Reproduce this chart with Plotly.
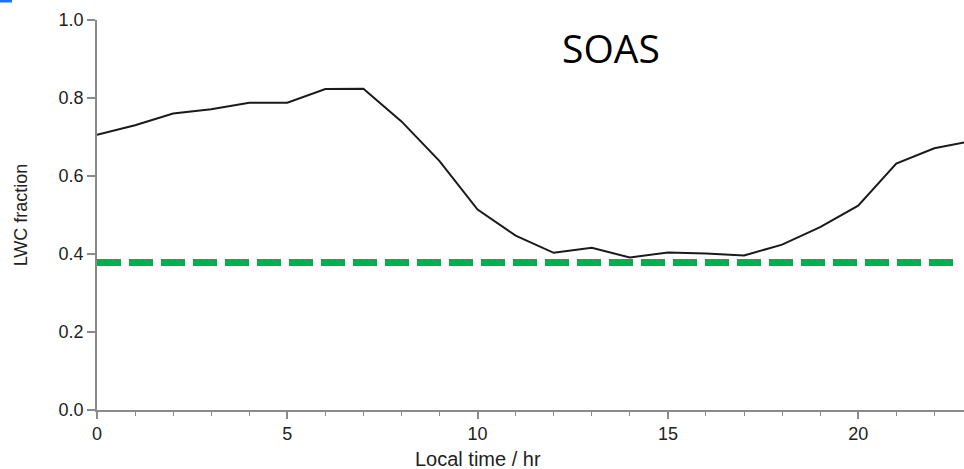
import plotly.graph_objects as go

# Diurnal liquid-water-content fraction (SOAS)
hours = list(range(24))
lwc_fraction = [0.706, 0.730, 0.760, 0.771, 0.788, 0.788, 0.823, 0.824, 0.740, 0.638,
                0.514, 0.447, 0.403, 0.416, 0.391, 0.404, 0.401, 0.396, 0.424, 0.469,
                0.524, 0.632, 0.671, 0.690]

# Horizontal reference level
ref_x = [0, 22.55]
ref_y = [0.378, 0.378]

x_ticks = [0, 5, 10, 15, 20]
y_ticks = [0.0, 0.2, 0.4, 0.6, 0.8, 1.0]
y_tick_text = ["0.0", "0.2", "0.4", "0.6", "0.8", "1.0"]

AXIS_GREY = "#8a8a8a"
SANS = "Liberation Sans, Arial, sans-serif"
TICK_FONT = dict(family=SANS, size=18, color="#222222")

L_MARGIN, T_MARGIN, PLOT_W, PLOT_H = 97, 20, 867, 390


def px_x(px):
    """Page pixel column -> paper x."""
    return (px - L_MARGIN) / PLOT_W


def px_y(py):
    """Page pixel row -> paper y."""
    return (PLOT_H - (py - T_MARGIN)) / PLOT_H


fig = go.Figure()

fig.add_trace(go.Scatter(
    x=hours, y=lwc_fraction, mode="lines",
    line=dict(color="#1a1a1a", width=2),
    showlegend=False, hoverinfo="skip",
))

fig.add_trace(go.Scatter(
    x=ref_x, y=ref_y, mode="lines",
    line=dict(color="#00b050", width=7, dash="24px,8px"),
    showlegend=False, hoverinfo="skip",
))

fig.update_layout(
    width=964, height=469,
    margin=dict(l=L_MARGIN, r=0, t=T_MARGIN, b=469 - T_MARGIN - PLOT_H),
    paper_bgcolor="white", plot_bgcolor="white",
    showlegend=False,
    annotations=[
        dict(text="SOAS", x=px_x(611), y=px_y(48),
             xref="paper", yref="paper", xanchor="center", yanchor="middle",
             showarrow=False,
             font=dict(family="Open Sans, sans-serif", size=39, color="#000000")),
        dict(text="Local time / hr", x=px_x(478), y=px_y(459),
             xref="paper", yref="paper", xanchor="center", yanchor="middle",
             showarrow=False,
             font=dict(family=SANS, size=20, color="#222222")),
    ],
)

fig.update_xaxes(
    range=[0, 22.78],
    tickmode="array", tickvals=x_ticks,
    ticks="outside", ticklen=7, tickwidth=1.5, tickcolor=AXIS_GREY,
    minor=dict(dtick=1, ticks="outside", ticklen=4, tickwidth=1.2, tickcolor=AXIS_GREY, showgrid=False),
    showline=True, linecolor=AXIS_GREY, linewidth=1.5,
    showgrid=False, zeroline=False,
    tickfont=TICK_FONT,
)

fig.update_yaxes(
    range=[0, 1.0],
    tickmode="array", tickvals=y_ticks, ticktext=y_tick_text,
    ticks="outside", ticklen=8, tickwidth=1.5, tickcolor=AXIS_GREY,
    showline=True, linecolor=AXIS_GREY, linewidth=1.5,
    showgrid=False, zeroline=False,
    tickfont=TICK_FONT,
    title=dict(text="LWC fraction", font=dict(family=SANS, size=18, color="#222222"), standoff=26),
)

# small blue bar in the top-left corner of the page
fig.add_shape(type="rect", xref="paper", yref="paper",
              x0=px_x(0), x1=px_x(12), y0=px_y(2.5), y1=px_y(0),
              line=dict(width=0), fillcolor="#1f6fff", layer="above")

fig.write_html("out.html")
